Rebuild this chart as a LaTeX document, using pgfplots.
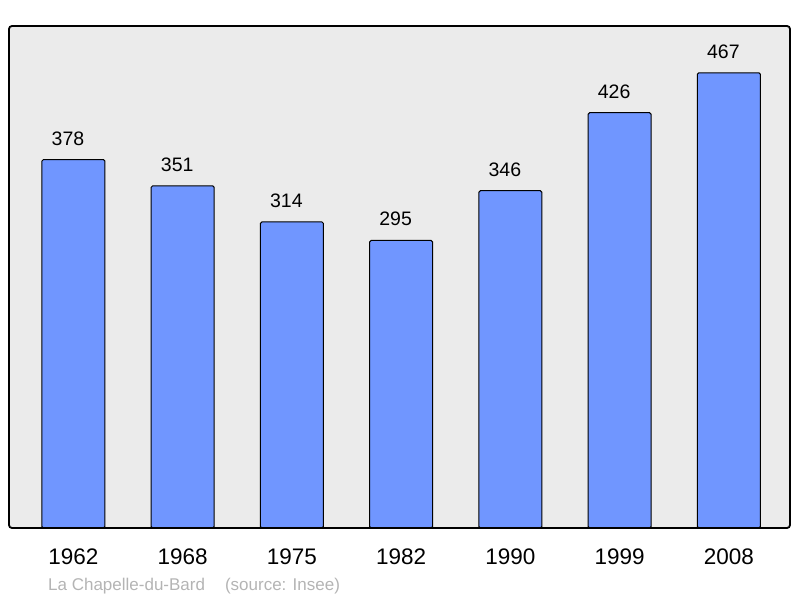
\documentclass[border=0pt]{standalone}
\usepackage{pgfplots}
\pgfplotsset{compat=1.18}
\usepackage{fontspec}
\setmainfont{Liberation Sans}
\definecolor{barblue}{HTML}{7096FF}
\definecolor{bggray}{HTML}{EBEBEB}
\definecolor{capgray}{HTML}{B4B4B4}
\begin{document}
\begin{tikzpicture}[x=1pt,y=1pt]
\useasboundingbox (0,0) rectangle (800,598);
\begin{axis}[
  at={(9pt,70pt)}, anchor=south west,
  scale only axis, width=781pt, height=502pt,
  xmin=-0.59, xmax=6.56, ymin=0, ymax=515,
  axis line style={draw=none},
  ybar, bar width=63pt,
  xtick={0,1,2,3,4,5,6},
  xticklabels={1962,1968,1975,1982,1990,1999,2008},
  x tick label style={font=\fontsize{22.5}{24}\selectfont, anchor=base, inner sep=0pt, yshift=-36pt},
  major tick length=0pt,
  ytick=\empty,
  clip=false,
  nodes near coords,
  every node near coord/.append style={font=\fontsize{19.5}{21}\selectfont, black, anchor=base, inner sep=0pt, yshift=14.5pt, xshift=-5.5pt},
  /pgf/number format/assume math mode=true,
]
\fill[bggray, rounded corners=3pt] (rel axis cs:0,0) rectangle (rel axis cs:1,1);
\addplot[fill=barblue, draw=black, line width=1pt, rounded corners=1.5pt] coordinates {
(0,378) (1,351) (2,314) (3,295) (4,346) (5,426) (6,467)};
\draw[black, line width=1.8pt, rounded corners=3pt] (rel axis cs:0,0) rectangle (rel axis cs:1,1);
\end{axis}
\node[anchor=base west, font=\fontsize{17}{19}\selectfont, text=capgray, inner sep=0] at (48,7.3) {La Chapelle-du-Bard\hspace{20pt}(source: Insee)};
\end{tikzpicture}
\end{document}
